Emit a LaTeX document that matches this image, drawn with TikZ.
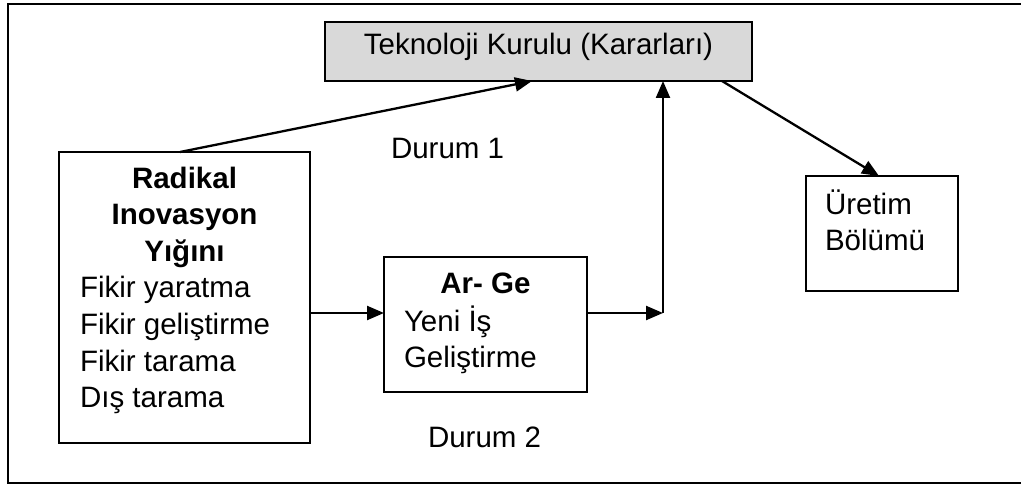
\documentclass[tikz,border=0pt]{standalone}
\usepackage{fontspec}
\setmainfont{Liberation Sans}
\usetikzlibrary{arrows.meta}
\definecolor{boardgray}{HTML}{D9D9D9}
\begin{document}
\begin{tikzpicture}[x=1pt,y=-1pt,
  box/.style={draw=black,line width=1.6pt,rectangle,inner sep=0pt,outer sep=0pt},
  arr/.style={line width=2.3pt,-{Triangle[length=17pt,width=14pt]}},
  txt/.style={inner sep=0pt,outer sep=0pt,font=\fontsize{29.5}{35}\selectfont},
  btxt/.style={txt,font=\fontsize{29.5}{35}\selectfont\bfseries}]
\useasboundingbox (0,0) rectangle (1021,486);
% outer frame (right side runs off the page)
\draw[line width=2pt] (1030,4) -- (7.5,4) -- (7.5,482.5) -- (1030,482.5);

% boxes
\node[box,fill=boardgray,minimum width=427pt,minimum height=59pt] (tk) at (538.5,51.5) {};
\node[box,minimum width=251pt,minimum height=291pt] (rad) at (184.5,297.5) {};
\node[box,minimum width=203pt,minimum height=135pt] (arge) at (485.5,324.5) {};
\node[box,minimum width=152pt,minimum height=115pt] (uret) at (882,233.5) {};

% texts
\node[txt,anchor=base] (tkt) at (538.5,55) {Teknoloji Kurulu (Kararları)};

\node[btxt,anchor=base] (r1) at (184.5,189) {Radikal};
\node[btxt,anchor=base] (r2) at (184.5,225) {Inovasyon};
\node[btxt,anchor=base] (r3) at (184.5,262) {Yığını};
\node[txt,anchor=base west] (r4) at (80,298) {Fikir yaratma};
\node[txt,anchor=base west] (r5) at (80,335) {Fikir geliştirme};
\node[txt,anchor=base west] (r6) at (80,372) {Fikir tarama};
\node[txt,anchor=base west] (r7) at (80,408) {Dış tarama};

\node[btxt,anchor=base] (a1) at (485.5,294) {Ar- Ge};
\node[txt,anchor=base west] (a2) at (404,332) {Yeni İş};
\node[txt,anchor=base west] (a3) at (404,368) {Geliştirme};

\node[txt,anchor=base west] (u1) at (825,215) {Üretim};
\node[txt,anchor=base west] (u2) at (825,251) {Bölümü};

\node[txt,anchor=base west] (d1) at (391,159) {Durum 1};
\node[txt,anchor=base west] (d2) at (428,447) {Durum 2};

% connectors
\coordinate (row) at (0,313);
\coordinate (j) at (663,313);
\draw[arr] ([xshift=-4.5pt]rad.north) -- ([xshift=-6.5pt]tk.south);
\draw[arr] (rad.east |- row) -- (arge.west |- row);
\draw[arr] (arge.east |- row) -- (j);
\draw[arr] (j) -- (j |- tk.south);
\draw[arr] ([xshift=-30pt]tk.south east) -- ([xshift=-3pt]uret.north);
\end{tikzpicture}
\end{document}
